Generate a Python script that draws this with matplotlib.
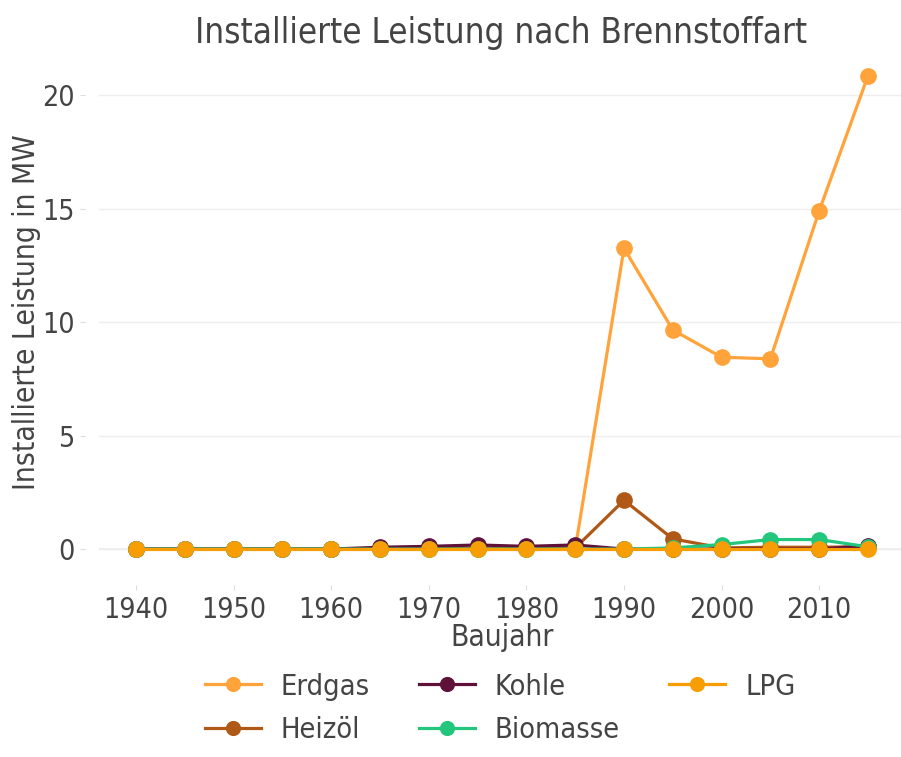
import matplotlib
matplotlib.use("Agg")
import matplotlib.pyplot as plt

years = [1940, 1945, 1950, 1955, 1960, 1965, 1970, 1975, 1980, 1985, 1990, 1995, 2000, 2005, 2010, 2015]
erdgas   = [0, 0, 0, 0, 0, 0, 0, 0, 0, 0, 13.25, 9.65, 8.45, 8.38, 14.9, 20.85]
heizoel  = [0, 0, 0, 0, 0, 0.02, 0.03, 0.04, 0.04, 0.05, 2.15, 0.45, 0.05, 0.08, 0.08, 0.1]
kohle    = [0, 0, 0, 0, 0, 0.08, 0.12, 0.18, 0.12, 0.18, 0.0, 0.0, 0.0, 0.0, 0.0, 0.15]
biomasse = [0, 0, 0, 0, 0, 0, 0, 0, 0, 0, 0.0, 0.05, 0.2, 0.42, 0.42, 0.1]
lpg      = [0, 0, 0, 0, 0, 0, 0, 0, 0, 0, 0, 0, 0, 0, 0, 0]

series = [
    ("Erdgas", erdgas, "#FFA33A"),
    ("Heizöl", heizoel, "#B05815"),
    ("Kohle", kohle, "#5F1139"),
    ("Biomasse", biomasse, "#22C67C"),
    ("LPG", lpg, "#F79E05"),
]

plt.rcParams['font.family'] = ['DejaVu Sans']
plt.rcParams['font.stretch'] = 'condensed'
W, H = 901, 757
fig = plt.figure(figsize=(W/100, H/100), dpi=100)
left, right, top, bottom = 99, 901, 58, 577
ax = fig.add_axes([left/W, 1 - bottom/H, (right-left)/W, (bottom-top)/H])

txt = "#444444"
for name, vals, col in series:
    ax.plot(years, vals, color=col, lw=2.3, marker='o', markersize=11, label=name, zorder=3)

ax.set_xlim(1936.21, 2018.38)
ax.set_ylim(-1.23, 21.63)
ax.set_xticks(list(range(1940, 2011, 10)))
ax.set_yticks([0, 5, 10, 15, 20])
ax.grid(axis='y', color='#eeeeee', lw=1)
ax.grid(axis='x', visible=False)
ax.axhline(0, color='#eeeeee', lw=1.5, zorder=1)
ax.set_axisbelow(True)
for s in ax.spines.values():
    s.set_visible(False)
ax.spines['left'].set_position(('outward', 10))
ax.spines['bottom'].set_position(('outward', 6))
ax.tick_params(length=3.6, width=0.8, color='#dddddd', labelsize=20.5, labelcolor=txt, pad=4)
ax.set_xlabel("Baujahr", fontsize=21.5, color=txt)
ax.set_ylabel("Installierte Leistung in MW", fontsize=21.5, color=txt)
ax.xaxis.label.set_va('center')
ax.yaxis.label.set_va('center')
ax.xaxis.set_label_coords((502 - left) / (right - left), (bottom - 638) / (bottom - top))
ax.yaxis.set_label_coords((27 - left) / (right - left), (bottom - 312.5) / (bottom - top))
fig.text(501.5 / W, 1 - 33 / H, "Installierte Leistung nach Brennstoffart", ha='center', va='center',
         fontsize=25, color=txt)

leg = fig.legend(loc='center', bbox_to_anchor=(500 / W, 1 - 708.5 / H), ncol=3, frameon=False,
                 fontsize=20.8, handlelength=1.95, columnspacing=1.7, labelspacing=0.55,
                 handletextpad=0.68, markerscale=0.9)
for t in leg.get_texts():
    t.set_color(txt)

fig.savefig("out.png", dpi=100, facecolor='white')
